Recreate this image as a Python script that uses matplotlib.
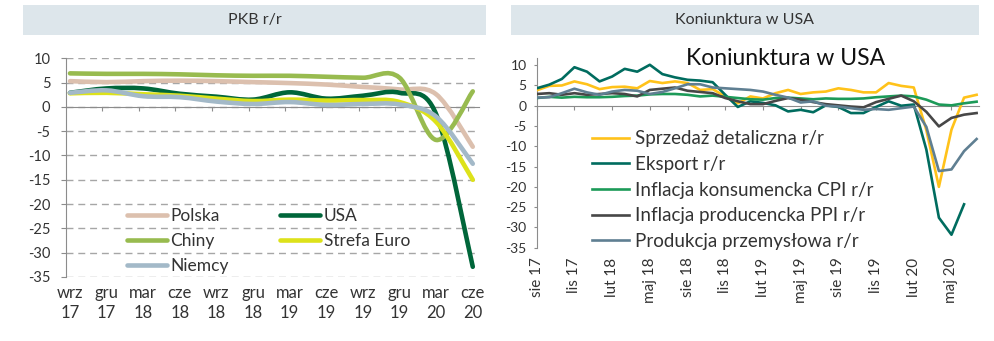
import numpy as np
import matplotlib
matplotlib.use("Agg")
import matplotlib.pyplot as plt
from matplotlib.path import Path
from matplotlib.patches import PathPatch, Rectangle
from matplotlib.lines import Line2D

plt.rcParams['font.family'] = ['Lato', 'DejaVu Sans']

# ---------------- GDP y/y, quarterly ----------------
quarters = ["wrz\n17", "gru\n17", "mar\n18", "cze\n18", "wrz\n18", "gru\n18",
            "mar\n19", "cze\n19", "wrz\n19", "gru\n19", "mar\n20", "cze\n20"]
gdp_polska = [5.3, 5.1, 5.3, 5.4, 5.3, 5.1, 4.9, 4.6, 4.1, 3.6, 2.6, -8.2]
gdp_usa = [2.9, 3.8, 3.8, 2.7, 2.1, 1.5, 3.0, 1.7, 2.3, 2.9, -1.5, -32.9]
gdp_chiny = [6.9, 6.8, 6.8, 6.7, 6.5, 6.4, 6.4, 6.2, 6.0, 6.0, -6.8, 3.2]
gdp_euro = [2.8, 2.9, 2.6, 2.3, 1.7, 1.2, 1.5, 1.3, 1.4, 1.0, -3.1, -15.0]
gdp_niemcy = [2.9, 3.4, 2.2, 2.0, 1.1, 0.6, 1.0, 0.4, 0.6, 0.5, -2.0, -11.7]

# ---------------- US business cycle, monthly (sie 17 .. lip 20) ----------------
month_labels = ["sie 17", "lis 17", "lut 18", "maj 18", "sie 18", "lis 18",
                "lut 19", "maj 19", "sie 19", "lis 19", "lut 20", "maj 20"]
retail = [3.8, 4.9, 5.0, 6.0, 5.3, 4.1, 4.6, 4.7, 4.3, 6.1, 5.6, 6.0,
          5.6, 3.9, 4.1, 2.3, 0.6, 2.3, 1.8, 3.1, 3.9, 2.9, 3.3, 3.5,
          4.3, 3.9, 3.3, 3.3, 5.6, 4.9, 4.5, -6.0, -20.0, -5.9, 2.0, 2.7]
exports = [4.3, 5.2, 6.6, 9.5, 8.4, 6.0, 7.2, 9.1, 8.4, 10.1, 7.8, 7.0,
           6.4, 6.2, 5.8, 2.7, -0.3, 1.1, 0.7, 0.1, -1.4, -1.0, -1.6, 0.1,
           -0.3, -1.8, -1.8, -0.3, 1.1, 0.0, 0.3, -10.8, -27.6, -31.8, -24.3, np.nan]
cpi = [1.9, 2.2, 2.0, 2.2, 2.1, 2.1, 2.2, 2.4, 2.5, 2.8, 2.9, 2.9,
       2.7, 2.3, 2.5, 2.2, 1.9, 1.6, 1.5, 1.9, 2.0, 1.8, 1.6, 1.8,
       1.7, 1.7, 1.8, 2.1, 2.3, 2.5, 2.3, 1.5, 0.3, 0.1, 0.6, 1.0]
ppi = [2.9, 3.1, 2.7, 3.1, 2.7, 2.9, 3.1, 2.9, 2.3, 3.9, 4.2, 4.5,
       3.7, 3.4, 3.1, 1.9, 1.1, 0.4, 0.4, 1.2, 1.9, 1.5, 0.9, 0.4,
       0.1, -0.2, -0.4, 0.9, 1.7, 2.5, 1.1, -1.5, -5.1, -3.0, -2.2, -1.8]
industry = [2.0, 2.1, 3.1, 4.2, 3.3, 2.7, 3.5, 3.9, 3.7, 2.9, 3.4, 4.3,
            5.3, 5.3, 4.5, 4.3, 4.1, 3.9, 3.5, 2.7, 2.0, 0.8, 1.1, 0.0,
            -0.2, -0.6, -1.0, -0.8, -1.0, -0.6, -0.2, -5.2, -16.1, -15.7, -11.2, -8.2]

W, H = 995, 341
fig = plt.figure(figsize=(W / 100, H / 100), dpi=100)
fig.patch.set_facecolor("white")

HEADER = "#dde6eb"
AXIS_GREY = "#8c8c8c"
TEXT = "#333333"


def fx(px):
    return px / W


def fy(py):
    return 1 - py / H


# panel headers
for x0, x1, title in [(23, 486, "PKB r/r"), (511, 979, "Koniunktura w USA")]:
    fig.patches.append(Rectangle((fx(x0), fy(34.7)), fx(x1 - x0), (34.7 - 5.5) / H,
                                 transform=fig.transFigure, facecolor=HEADER,
                                 edgecolor="none", zorder=0))
    fig.text(fx((x0 + x1) / 2), fy(20), title, ha="center", va="center",
             fontsize=11.5, color=TEXT)


def smooth_path(x, y):
    """Cubic Bezier path through the points (Catmull-Rom style tangents)."""
    pts = np.column_stack([x, y]).astype(float)
    n = len(pts)
    verts = [pts[0]]
    codes = [Path.MOVETO]
    for i in range(n - 1):
        p0 = pts[i - 1] if i > 0 else pts[i]
        p1, p2 = pts[i], pts[i + 1]
        p3 = pts[i + 2] if i + 2 < n else pts[i + 1]
        verts += [p1 + (p2 - p0) / 6, p2 - (p3 - p1) / 6, p2]
        codes += [Path.CURVE4] * 3
    return Path(verts, codes)


# ---------------- left panel: GDP ----------------
ax1 = fig.add_axes([fx(65.7), fy(277), fx(479 - 65.7), (277 - 58.3) / H])
ax1.set_xlim(-0.117, 11.17)
ax1.set_ylim(-35, 10)

gdp_series = [("Polska", gdp_polska, "#dcc0ae"),
              ("USA", gdp_usa, "#00663a"),
              ("Chiny", gdp_chiny, "#98bb4f"),
              ("Strefa Euro", gdp_euro, "#dde21a"),
              ("Niemcy", gdp_niemcy, "#a3b9c8")]
xq = np.arange(len(quarters))
handles = {}
for z, (name, vals, col) in enumerate(gdp_series):
    patch = PathPatch(smooth_path(xq, vals), facecolor="none", edgecolor=col,
                      lw=3.3, capstyle="round", joinstyle="round", zorder=3 + z)
    ax1.add_patch(patch)
    handles[name] = Line2D([], [], color=col, lw=3.3, solid_capstyle="round")

for s in ["top", "right"]:
    ax1.spines[s].set_visible(False)
ax1.spines["left"].set_color(AXIS_GREY)
ax1.spines["bottom"].set_color(AXIS_GREY)
ax1.spines["bottom"].set_position(("data", 0))
ax1.spines["bottom"].set_zorder(2)

ax1.set_yticks(np.arange(-35, 11, 5))
ax1.set_yticklabels([str(v) for v in np.arange(-35, 11, 5)])
ax1.tick_params(axis="y", direction="out", length=3.6, color=AXIS_GREY,
                labelsize=10.5, labelcolor=TEXT, pad=7.5)
ax1.grid(axis="y", linestyle=(0, (5, 3.5)), color="#a6a6a6", lw=1.0, zorder=1)
ax1.set_axisbelow(True)

ax1.set_xticks(xq[:-1] + 0.88)
ax1.tick_params(axis="x", direction="out", length=3.0, color=AXIS_GREY,
                labelbottom=False)

sec1 = ax1.secondary_xaxis("bottom")
sec1.set_xticks(xq, labels=quarters)
sec1.tick_params(length=0, labelsize=12, labelcolor=TEXT, pad=6)
sec1.spines["bottom"].set_visible(False)
for lbl in sec1.get_xticklabels():
    lbl.set_linespacing(1.3)

order = ["Polska", "Chiny", "Niemcy", "USA", "Strefa Euro"]
ax1.legend([handles[k] for k in order], order, ncol=2, loc="upper left",
           bbox_to_anchor=((127 - 65.7) / 413.3, 0.317),
           frameon=False, fontsize=12.5, handlelength=2.3, handletextpad=0.2,
           columnspacing=2.95, labelspacing=0.54, borderpad=0, borderaxespad=0,
           labelcolor=TEXT)

# ---------------- right panel: US indicators ----------------
ax2 = fig.add_axes([fx(536.7), fy(247.7), fx(979 - 536.7), (247.7 - 58.3) / H])
ax2.set_xlim(0, 35.19)
ax2.set_ylim(-35, 11.7)

xm = np.arange(len(retail))
us_series = [("Sprzedaż detaliczna r/r", retail, "#ffc21a"),
             ("Eksport r/r", exports, "#006c5f"),
             ("Inflacja konsumencka CPI r/r", cpi, "#1c9a58"),
             ("Inflacja producencka PPI r/r", ppi, "#474747"),
             ("Produkcja przemysłowa r/r", industry, "#5f7f92")]
for z, (name, vals, col) in enumerate(us_series):
    ax2.plot(xm, vals, color=col, lw=1.9, label=name, zorder=3 + z,
             solid_joinstyle="round")

for s in ["top", "right"]:
    ax2.spines[s].set_visible(False)
ax2.spines["left"].set_color(AXIS_GREY)
ax2.spines["bottom"].set_color(AXIS_GREY)
ax2.spines["bottom"].set_position(("data", 0))

ax2.set_yticks(np.arange(-35, 11, 5))
ax2.set_yticklabels([str(v) for v in np.arange(-35, 11, 5)])
ax2.tick_params(axis="y", direction="out", length=2.2, color=AXIS_GREY,
                labelsize=10, labelcolor=TEXT, pad=5)

tick_m = np.arange(0, 34, 3)
ax2.set_xticks(tick_m)
ax2.tick_params(axis="x", direction="out", length=3.0, color=AXIS_GREY,
                labelbottom=False)

sec2 = ax2.secondary_xaxis("bottom")
sec2.set_xticks(tick_m, labels=month_labels)
sec2.tick_params(length=0, labelsize=11, labelcolor=TEXT, pad=7, labelrotation=90)
sec2.spines["bottom"].set_visible(False)

ax2.text((785.3 - 536.7) / 442.3, 1.0, "Koniunktura w USA", transform=ax2.transAxes,
         ha="center", va="center", fontsize=16.5, color="#111111")

ax2.legend(loc="upper left", bbox_to_anchor=((591.7 - 536.7) / 442.3, 0.62),
           frameon=False, fontsize=13.5, handlelength=2.0, handletextpad=0.3,
           labelspacing=0.46, borderpad=0, borderaxespad=0, labelcolor=TEXT)

fig.savefig("out.png", dpi=100, facecolor="white")
